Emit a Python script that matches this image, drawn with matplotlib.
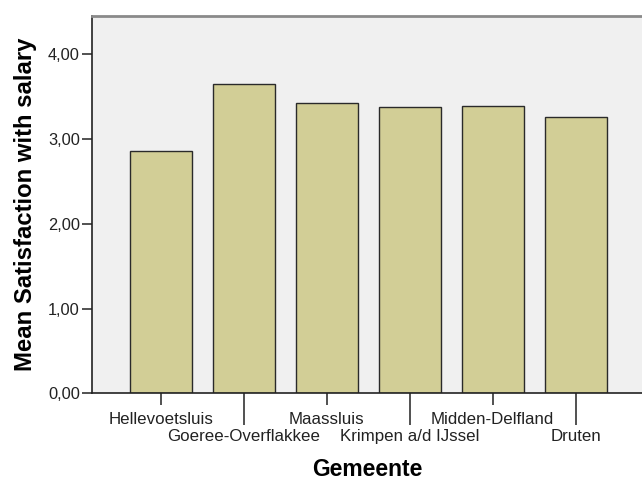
import matplotlib
matplotlib.use("Agg")
import matplotlib.pyplot as plt

# data
gemeenten = ["Hellevoetsluis", "Goeree-Overflakkee", "Maassluis",
             "Krimpen a/d IJssel", "Midden-Delfland", "Druten"]
mean_sat = [2.86, 3.65, 3.42, 3.38, 3.39, 3.26]
y_ticks = [0, 1, 2, 3, 4]
y_labels = ["0,00", "1,00", "2,00", "3,00", "4,00"]

plt.rcParams['font.family'] = ['Liberation Sans', 'DejaVu Sans']

fig = plt.figure(figsize=(6.42, 4.83), dpi=100)
ax = fig.add_axes([0.1433, 0.1857, 0.8567, 0.7812])
ax.set_facecolor('#f0f0f0')

x = list(range(len(gemeenten)))
ax.bar(x, mean_sat, width=0.75, color='#d2ce96', edgecolor='#2a2a2a',
       linewidth=1.0, zorder=2)

ax.set_xlim(-0.832, 5.80)
ax.set_ylim(0, 4.45)

# y axis
ax.set_yticks(y_ticks)
ax.set_yticklabels(y_labels)
ax.tick_params(axis='y', length=7.2, width=1.2, color='#333333', pad=1.5,
               labelsize=11.8, labelcolor='#222222')

# x axis: alternating short / long ticks so labels sit on two rows
ax.set_xticks(x[0::2])
ax.set_xticklabels(gemeenten[0::2])
ax.set_xticks(x[1::2], minor=True)
ax.set_xticklabels(gemeenten[1::2], minor=True)
ax.tick_params(axis='x', which='major', length=8.6, width=1.2, color='#333333',
               pad=5, labelsize=12.2, labelcolor='#222222')
ax.tick_params(axis='x', which='minor', length=23, width=1.2, color='#333333',
               pad=3, labelsize=12.2, labelcolor='#222222')

for s in ['left', 'bottom']:
    ax.spines[s].set_color('#222222')
    ax.spines[s].set_linewidth(1.2)
ax.spines['top'].set_color('#8a8a8a')
ax.spines['top'].set_linewidth(2)
ax.spines['right'].set_visible(False)

ax.set_ylabel("Mean Satisfaction with salary", fontsize=17.2, fontweight='bold')
ax.yaxis.set_label_coords(-0.100, 0.5)
ax.set_xlabel("Gemeente", fontsize=16.5, fontweight='bold')
ax.xaxis.set_label_coords(0.5, -0.172)

fig.savefig("out.png", dpi=100)
